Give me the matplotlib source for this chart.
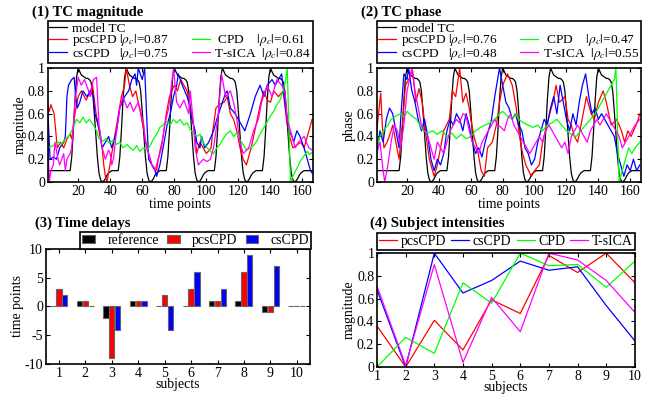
import numpy as np
import matplotlib
matplotlib.use('Agg')
import matplotlib.pyplot as plt
from matplotlib.lines import Line2D

plt.rcParams['font.family'] = ['Liberation Serif', 'DejaVu Serif']
plt.rcParams['mathtext.fontset'] = 'stix'
plt.rcParams['axes.unicode_minus'] = False

# ---- model time course (same in both top panels), t = 1..166
model_tc = [
    0.1, 0.1, 0.1, 0.1, 0.1, 0.1, 0.1, 0.1, 0.1, 0.1, 0.1, 0.1, 0.1, 0.1,
    0.1, 0.22, 0.45, 0.72, 0.92, 1.0, 0.97, 0.94, 0.93, 0.92, 0.91, 0.91, 0.9, 0.88, 0.8,
    0.62, 0.42, 0.22, 0.08, 0.02, 0.0, 0.01, 0.03, 0.06, 0.08, 0.09, 0.1, 0.1, 0.1, 0.1,
    0.1, 0.22, 0.45, 0.72, 0.92, 1.0, 0.97, 0.94, 0.93, 0.92, 0.91, 0.91, 0.9, 0.88, 0.8,
    0.62, 0.42, 0.22, 0.08, 0.02, 0.0, 0.01, 0.03, 0.06, 0.08, 0.09, 0.1, 0.1, 0.1, 0.1,
    0.1, 0.22, 0.45, 0.72, 0.92, 1.0, 0.97, 0.94, 0.93, 0.92, 0.91, 0.91, 0.9, 0.88, 0.8,
    0.62, 0.42, 0.22, 0.08, 0.02, 0.0, 0.01, 0.03, 0.06, 0.08, 0.09, 0.1, 0.1, 0.1, 0.1,
    0.1, 0.22, 0.45, 0.72, 0.92, 1.0, 0.97, 0.94, 0.93, 0.92, 0.91, 0.91, 0.9, 0.88, 0.8,
    0.62, 0.42, 0.22, 0.08, 0.02, 0.0, 0.01, 0.03, 0.06, 0.08, 0.09, 0.1, 0.1, 0.1, 0.1,
    0.1, 0.22, 0.45, 0.72, 0.92, 1.0, 0.97, 0.94, 0.93, 0.92, 0.91, 0.91, 0.9, 0.88, 0.8,
    0.62, 0.42, 0.22, 0.08, 0.02, 0.0, 0.01, 0.03, 0.06, 0.08, 0.09, 0.1, 0.1, 0.1, 0.1,
    0.1, 0.1]
model_t = np.arange(1, len(model_tc) + 1)

# ---- (1) TC magnitude
mag_pcs_t = [1, 2, 3, 5, 6, 7, 9, 11, 13, 15, 16, 18, 20, 22, 25, 27, 29, 31, 33, 35,
             36, 37, 38, 41, 44, 47, 49, 50, 52, 54, 56, 59, 61, 63, 66, 69, 70, 73, 75, 77,
             80, 82, 84, 86, 88, 91, 93, 94, 96, 98, 100, 103, 104, 106, 108, 111, 113, 115, 117, 119,
             121, 123, 125, 128, 131, 134, 136, 138, 140, 142, 145, 148, 150, 152, 154, 157, 159, 161, 163, 166]
mag_pcs = [0.68, 0.62, 0.68, 0.6, 0.45, 0.3, 0.35, 0.3, 0.38, 0.42, 0.38, 0.6, 0.75, 0.8, 0.72, 0.78, 0.85, 0.62, 0.45, 0.3,
           0.15, 0.05, 0.0, 0.25, 0.5, 0.75, 0.85, 1.0, 0.85, 0.75, 0.8, 0.6, 0.45, 0.3, 0.15, 0.1, 0.2, 0.4, 0.6, 0.75,
           0.85, 0.8, 0.9, 0.85, 0.8, 0.6, 0.4, 0.25, 0.35, 0.3, 0.25, 0.3, 0.45, 0.65, 0.68, 0.7, 0.75, 0.6, 0.55, 0.45,
           0.3, 0.2, 0.15, 0.3, 0.5, 0.7, 0.8, 0.72, 0.7, 0.8, 0.75, 0.8, 0.55, 0.4, 0.3, 0.33, 0.35, 0.3, 0.4, 0.55]

mag_cs_t = [1, 2.5, 4.5, 6.5, 8.5, 11, 12, 13, 14, 16, 17.5, 18.5, 19.5, 21, 23, 25.5, 27.5, 29.5, 30.5, 31.5,
            33.5, 35, 37, 39, 41, 42, 44, 46, 49, 51.5, 53.5, 55.5, 56.5, 57.5, 60, 61.5, 63, 64, 66, 68,
            69, 71, 73, 75.5, 77.5, 79.5, 81.5, 82.5, 85, 88, 89, 91, 93, 94, 96, 97, 99, 101.5, 104.5, 106.5,
            110, 112, 113, 115, 118, 120, 122, 124, 127.5, 130.5, 133.5, 136, 138, 141, 143, 145, 147, 149, 150.5, 151.5,
            153.5, 154.5, 156.5, 158.5, 161, 163, 165, 166]
mag_cs = [0.65, 0.2, 0.22, 0.2, 0.3, 0.35, 0.4, 0.75, 0.85, 0.9, 0.92, 0.75, 0.65, 0.7, 0.8, 0.75, 0.8, 0.75, 0.6, 0.55,
          0.45, 0.3, 0.35, 0.4, 0.3, 0.35, 0.45, 0.65, 0.75, 0.8, 0.9, 0.95, 0.85, 1.0, 0.9, 1.0, 0.5, 0.2, 0.15, 0.1,
          0.05, 0.15, 0.3, 0.5, 0.6, 0.75, 0.85, 0.95, 0.85, 0.75, 0.7, 0.55, 0.45, 0.35, 0.3, 0.4, 0.3, 0.35, 0.45, 0.55,
          0.7, 0.78, 0.8, 0.65, 0.6, 0.55, 0.5, 0.45, 0.6, 0.75, 0.85, 0.75, 0.85, 0.9, 0.85, 0.9, 0.95, 0.7, 0.55, 0.45,
          0.4, 0.35, 0.45, 0.4, 0.3, 0.2, 0.1, 0.08]

mag_cpd_t = [1, 4.5, 7.5, 9.5, 12, 14, 16, 17.5, 19, 21, 23, 25, 27, 29.5, 31.5, 33, 35.5, 37.5, 39.5, 42,
             44, 46, 48, 50.5, 52.5, 54.5, 56.5, 58.5, 61, 63, 65, 67, 69, 71, 73, 75, 77.5, 79.5, 81.5, 83.5,
             86, 88, 90, 92, 94, 96, 98, 100.5, 102.5, 104.5, 106.5, 108.5, 110.5, 112.5, 115, 117, 119, 121, 123, 125,
             127.5, 129.5, 131.5, 133.5, 136, 138, 140, 142, 144, 146, 148, 149.5, 150.5, 151.5, 152.5, 154, 156.5, 158.5, 160.5, 163,
             164.5, 166]
mag_cpd = [0.3, 0.32, 0.35, 0.33, 0.38, 0.4, 0.45, 0.5, 0.55, 0.52, 0.57, 0.52, 0.55, 0.5, 0.45, 0.38, 0.36, 0.38, 0.34, 0.37,
           0.33, 0.35, 0.3, 0.33, 0.3, 0.28, 0.32, 0.27, 0.3, 0.28, 0.32, 0.38, 0.42, 0.48, 0.5, 0.53, 0.5, 0.55, 0.52, 0.55,
           0.5, 0.52, 0.46, 0.43, 0.4, 0.42, 0.35, 0.3, 0.27, 0.25, 0.3, 0.33, 0.38, 0.42, 0.45, 0.4, 0.43, 0.37, 0.33, 0.28,
           0.3, 0.32, 0.36, 0.42, 0.48, 0.53, 0.58, 0.62, 0.68, 0.72, 0.8, 0.9, 1.0, 0.5, 0.0, 0.05, 0.12, 0.18, 0.22, 0.27,
           0.24, 0.26]

mag_ica_t = [1, 2, 3, 4.5, 5.5, 7.5, 8.5, 11, 12, 13, 15, 16, 18, 20, 22, 24, 26.5, 27.5, 29.5, 31.5,
             33, 35, 37, 39, 40, 41, 42, 44, 46, 48, 50.5, 52.5, 54.5, 57.5, 58.5, 61, 62, 64, 66, 68,
             70, 72, 74, 76.5, 79.5, 81.5, 83.5, 86, 89, 90, 92, 93, 95, 98, 100.5, 102.5, 104.5, 107.5, 109.5, 112,
             115, 117, 119, 121, 123, 126.5, 129.5, 132.5, 134.5, 138, 141, 144, 147, 149, 150.5, 153.5, 155.5, 157.5, 161, 164,
             166]
mag_ica = [0.45, 0.0, 0.1, 0.15, 0.35, 0.2, 0.15, 0.25, 0.1, 0.2, 0.25, 0.3, 0.7, 0.92, 0.85, 0.9, 0.8, 0.75, 0.9, 0.92,
           0.5, 0.3, 0.2, 0.28, 0.25, 0.15, 0.2, 0.45, 0.65, 0.75, 0.65, 0.7, 0.62, 0.7, 0.65, 0.5, 0.35, 0.25, 0.15, 0.1,
           0.2, 0.3, 0.5, 0.65, 1.0, 0.7, 0.65, 0.72, 0.6, 0.8, 0.5, 0.3, 0.15, 0.2, 0.18, 0.2, 0.3, 0.6, 0.95, 0.75,
           0.8, 0.7, 0.55, 0.35, 0.25, 0.3, 0.45, 0.55, 0.7, 0.85, 0.75, 0.9, 0.85, 0.8, 0.55, 0.4, 0.3, 0.35, 0.4, 0.3,
           0.28]

# ---- (2) TC phase
ph_pcs_t = [1, 3.5, 4.5, 5.5, 7.5, 10, 11, 13, 15, 17, 19, 21, 23.5, 25.5, 27.5, 29.5, 32, 34, 37, 39,
            41, 43, 46.5, 48.5, 50.5, 53, 55, 57, 59, 60, 62, 64, 66.5, 68.5, 70.5, 73.5, 76, 78, 80, 83,
            86, 88.5, 90.5, 92.5, 94.5, 98, 100, 103, 105, 108.5, 111.5, 113.5, 115.5, 119, 121, 123, 125, 127, 130.5, 132.5,
            135.5, 137.5, 140, 143, 145, 148, 151.5, 154.5, 156.5, 158.5, 160.5, 163, 165, 166]
ph_pcs = [0.45, 0.78, 0.5, 0.3, 0.35, 0.45, 0.5, 0.35, 0.2, 0.5, 0.85, 0.9, 0.98, 0.7, 0.82, 0.7, 0.4, 0.2, 0.05, 0.15,
          0.3, 0.45, 0.55, 0.8, 0.75, 1.0, 0.7, 0.78, 0.65, 0.55, 0.4, 0.3, 0.1, 0.05, 0.3, 0.35, 0.5, 0.7, 0.85, 0.95,
          0.85, 0.65, 0.4, 0.25, 0.15, 0.05, 0.1, 0.15, 0.35, 0.55, 0.7, 0.85, 0.7, 0.75, 0.55, 0.5, 0.4, 0.35, 0.6, 0.75,
          0.6, 0.55, 0.7, 0.8, 0.7, 0.5, 0.55, 0.45, 0.35, 0.45, 0.4, 0.48, 0.55, 0.6]

ph_cs_t = [1, 3, 5, 7, 9, 11, 13, 15, 16, 18, 20, 21,
           23, 25, 27, 29, 31, 33, 35, 37, 39, 41, 43, 45, 47, 49, 51, 53, 55, 57, 59, 61, 63, 65, 67, 69, 71, 73, 75,
           78, 80, 82, 84, 86, 88, 90, 92, 94, 96, 98, 100, 102, 104, 106, 108, 110, 112, 114, 116, 118, 120, 122,
           124, 126, 128, 130, 132, 134, 136, 138, 140, 142, 144, 146, 148, 150, 152, 154, 156, 158, 160, 162, 164, 166]
ph_cs = [0.25, 0.45, 0.35, 0.55, 0.65, 0.6, 0.45, 0.3, 0.55, 0.95, 0.9, 1.0,
         0.8, 0.7, 0.55, 0.45, 0.55, 0.4, 0.2, 0.1, 0.2, 0.15, 0.25, 0.45, 0.55, 0.5, 0.6, 0.55, 0.45, 0.6, 0.5, 0.35,
         0.25, 0.3, 0.22, 0.35, 0.45, 0.55, 0.75,
         1.0, 0.85, 0.7, 0.65, 0.55, 0.6, 0.5, 0.45, 0.3, 0.25, 0.15, 0.2, 0.35, 0.45, 0.55, 0.5, 0.65, 0.75, 0.6, 0.85,
         0.7, 0.55, 0.45, 0.6, 0.5, 0.7, 0.85, 0.95, 0.75, 0.6, 0.65, 0.55, 0.6, 0.55, 0.5, 0.45, 0.4, 0.25, 0.15, 0.05,
         0.15, 0.1, 0.2, 0.1, 0.15]

ph_cpd_t = [1, 3, 5, 8, 10, 13, 16, 18, 20, 23, 26, 28, 30, 33, 36, 39, 42, 45, 48, 51,
            54, 57, 60, 63, 66, 69, 72, 75, 78, 80, 83, 86, 88, 90, 93, 96, 99, 102, 105, 108,
            111, 114, 117, 120, 123, 126, 129, 132, 135, 138, 140, 142, 144, 146, 148, 150, 151, 152, 153, 155,
            157, 159, 161, 163, 166]
ph_cpd = [0.3, 0.4, 0.45, 0.5, 0.55, 0.58, 0.6, 0.57, 0.62, 0.58, 0.55, 0.5, 0.45, 0.43, 0.45, 0.42, 0.45, 0.4, 0.43, 0.38,
          0.42, 0.38, 0.4, 0.45, 0.48, 0.5, 0.52, 0.55, 0.6, 0.62, 0.58, 0.55, 0.6, 0.55, 0.52, 0.5, 0.48, 0.5, 0.45, 0.5,
          0.52, 0.55, 0.5, 0.45, 0.42, 0.4, 0.45, 0.5, 0.55, 0.6, 0.65, 0.7, 0.75, 0.8, 0.85, 0.9, 1.0, 0.5, 0.0, 0.1,
          0.2, 0.3, 0.25, 0.3, 0.35]

ph_ica_t = [1, 3, 5, 6, 8, 10, 12, 14, 16, 18, 20, 23,
            25, 27, 29, 31, 33, 35, 37, 39, 41, 43, 45, 47, 49, 51, 53, 55, 57, 59, 61, 63, 65, 67, 69, 71, 73, 75,
            77, 79, 81, 83, 85, 87, 89, 91, 93, 95, 97, 99, 101, 103, 105, 107, 109, 111, 113, 115, 117, 119, 121, 123,
            125, 127, 129, 131, 133, 135, 137, 139, 141, 143, 145, 147, 149, 151, 153, 155, 157, 159, 161, 163, 166]
ph_ica = [0.25, 0.35, 0.1, 0.0, 0.15, 0.35, 0.5, 0.45, 0.3, 0.5, 0.8, 1.0,
          0.8, 0.65, 0.5, 0.45, 0.4, 0.3, 0.2, 0.35, 0.3, 0.25, 0.35, 0.45, 0.5, 0.55, 0.52, 0.6, 0.58, 0.45, 0.35, 0.3,
          0.25, 0.35, 0.4, 0.45, 0.5, 0.55, 0.5, 0.48, 0.45, 0.55, 0.6, 0.5, 0.45, 0.4, 0.35, 0.3, 0.25, 0.3, 0.35, 0.4,
          0.35, 0.45, 0.5, 0.45, 0.4, 0.35, 0.3, 0.35, 0.25, 0.4, 0.45, 0.5, 0.45, 0.4, 0.35, 0.45, 0.5, 0.55, 0.5, 0.55,
          0.6, 0.55, 0.5, 0.45, 0.4, 0.3, 0.35, 0.4, 0.45, 0.5, 0.55]

mag_rho = [0.87, 0.75, 0.61, 0.84]   # pcsCPD, csCPD, CPD, T-sICA
ph_rho = [0.76, 0.48, 0.47, 0.55]

# ---- (3) Time delays
subjects = np.arange(1, 11)
delay_ref = [0, 1, -2, 1, 0, 0, 1, 1, -1, 0]
delay_pcs = [3, 1, -9, 1, 2, 3, 1, 6, -1, 0]
delay_cs = [2, 0, -4, 1, -4, 6, 3, 9, 7, 0]

# ---- (4) Subject intensities
int_pcs = [0.36, 0.0, 0.41, 0.15, 0.59, 0.47, 0.98, 0.83, 1.0, 0.74]
int_cs = [0.68, 0.0, 1.0, 0.65, 0.76, 0.93, 0.85, 0.88, 0.54, 0.23]
int_cpd = [0.0, 0.26, 0.12, 0.74, 0.56, 1.0, 0.89, 0.9, 0.7, 0.93]
int_ica = [0.71, 0.015, 0.9, 0.04, 0.61, 0.31, 1.0, 0.94, 0.76, 0.48]

RED, BLUE, GREEN, MAG = '#ff0000', '#0000ff', '#00ff00', '#ff00ff'
LW = 0.9
FS = 10
LFS = 10

fig = plt.figure(figsize=(6.68, 3.94), dpi=100)


def style(ax):
    ax.tick_params(direction='in', top=True, right=True, labelsize=FS, length=3, pad=2)
    for s in ax.spines.values():
        s.set_linewidth(1.2)


def frame(leg):
    leg.get_frame().set_linewidth(1.2)


def tc_panel(rect, title, ylabel, series, rho):
    ax = fig.add_axes(rect)
    ax.plot(model_t, model_tc, color='k', lw=LW)
    lines = []
    for (t, v, c) in series:
        lines += ax.plot(t, v, color=c, lw=LW)
    ax.set_xlim(1, 166.5)
    ax.set_ylim(0, 1)
    ax.set_xticks(range(20, 161, 20))
    ax.set_yticks([0, 0.2, 0.4, 0.6, 0.8, 1])
    ax.set_yticklabels(['0', '0.2', '0.4', '0.6', '0.8', '1'])
    ax.set_xlabel('time points', fontsize=FS, labelpad=0)
    ax.set_ylabel(ylabel, fontsize=FS, labelpad=1)
    style(ax)
    blank = Line2D([], [], color='none')
    handles = [ax.lines[0], lines[0], lines[1], blank, lines[2], lines[3]]
    labels = ['model TC',
              r'pcsCPD $|\rho_c|$=%.2f' % rho[0],
              r'csCPD   $|\rho_c|$=%.2f' % rho[1],
              ' ',
              r' CPD    $|\rho_c|$=%.2f' % rho[2],
              r'T-sICA  $|\rho_c|$=%.2f' % rho[3]]
    leg = ax.legend(handles, labels, ncol=2, mode='expand', loc='lower left',
                    bbox_to_anchor=(0, 1.045, 1, 0.3), borderaxespad=0,
                    fontsize=9.6, labelspacing=-0.2, handlelength=1.35, handletextpad=0.35,
                    columnspacing=0.3, borderpad=0.1, fancybox=False, framealpha=1, edgecolor='k')
    frame(leg)
    fig.text(rect[0] - 0.024, 0.97, title, fontsize=10.5, fontweight='bold', va='center')
    return ax


tc_panel([0.0714, 0.538, 0.397, 0.289], '(1) TC magnitude', 'magnitude',
         [(mag_pcs_t, mag_pcs, RED), (mag_cs_t, mag_cs, BLUE),
          (mag_cpd_t, mag_cpd, GREEN), (mag_ica_t, mag_ica, MAG)], mag_rho)
tc_panel([0.564, 0.538, 0.395, 0.289], '(2) TC phase', 'phase',
         [(ph_pcs_t, ph_pcs, RED), (ph_cs_t, ph_cs, BLUE),
          (ph_cpd_t, ph_cpd, GREEN), (ph_ica_t, ph_ica, MAG)], ph_rho)

# (3) bars
ax3 = fig.add_axes([0.0684, 0.0761, 0.3957, 0.292])
w = 0.2
ax3.bar(subjects - 0.22, delay_ref, w, color='k', edgecolor='#666666', lw=0.8, label='reference')
ax3.bar(subjects, delay_pcs, w, color=RED, edgecolor='#666666', lw=0.8, label='pcsCPD')
ax3.bar(subjects + 0.22, delay_cs, w, color=BLUE, edgecolor='#666666', lw=0.8, label='csCPD')
ax3.set_xlim(0.5, 10.5)
ax3.set_ylim(-10, 10)
ax3.set_xticks(subjects)
ax3.set_yticks([-10, -5, 0, 5, 10])
ax3.set_xlabel('subjects', fontsize=FS, labelpad=-1)
ax3.set_ylabel('time points', fontsize=FS, labelpad=0)
style(ax3)
leg3 = ax3.legend(ncol=3, loc='lower right', bbox_to_anchor=(1.005, 1.0), borderaxespad=0,
                  fontsize=LFS, handlelength=0.9, handleheight=0.55, handletextpad=0.9, columnspacing=0.6,
                  borderpad=0.15, fancybox=False, framealpha=1, edgecolor='k')
frame(leg3)
fig.text(0.0684 - 0.016, 0.434, '(3) Time delays', fontsize=10.5, fontweight='bold', va='center')

# (4) lines
ax4 = fig.add_axes([0.5644, 0.0685, 0.386, 0.289])
ax4.plot(subjects, int_pcs, color=RED, lw=LW, label='pcsCPD')
ax4.plot(subjects, int_cs, color=BLUE, lw=LW, label='csCPD')
ax4.plot(subjects, int_cpd, color=GREEN, lw=LW, label='CPD')
ax4.plot(subjects, int_ica, color=MAG, lw=LW, label='T-sICA')
ax4.set_xlim(1, 10)
ax4.set_ylim(0, 1)
ax4.set_xticks(subjects)
ax4.set_yticks([0, 0.2, 0.4, 0.6, 0.8, 1])
ax4.set_yticklabels(['0', '0.2', '0.4', '0.6', '0.8', '1'])
ax4.set_xlabel('subjects', fontsize=FS, labelpad=-1)
ax4.set_ylabel('magnitude', fontsize=FS, labelpad=1)
style(ax4)
leg4 = ax4.legend(ncol=4, mode='expand', loc='lower left', bbox_to_anchor=(0, 1.03, 1, 0.1),
                  borderaxespad=0, fontsize=LFS, handlelength=1.3, handletextpad=0.25, columnspacing=0.2,
                  borderpad=0.15, fancybox=False, framealpha=1, edgecolor='k')
frame(leg4)
fig.text(0.5644 - 0.01, 0.434, '(4) Subject intensities', fontsize=10.5, fontweight='bold', va='center')

fig.savefig('out.png', dpi=100)
